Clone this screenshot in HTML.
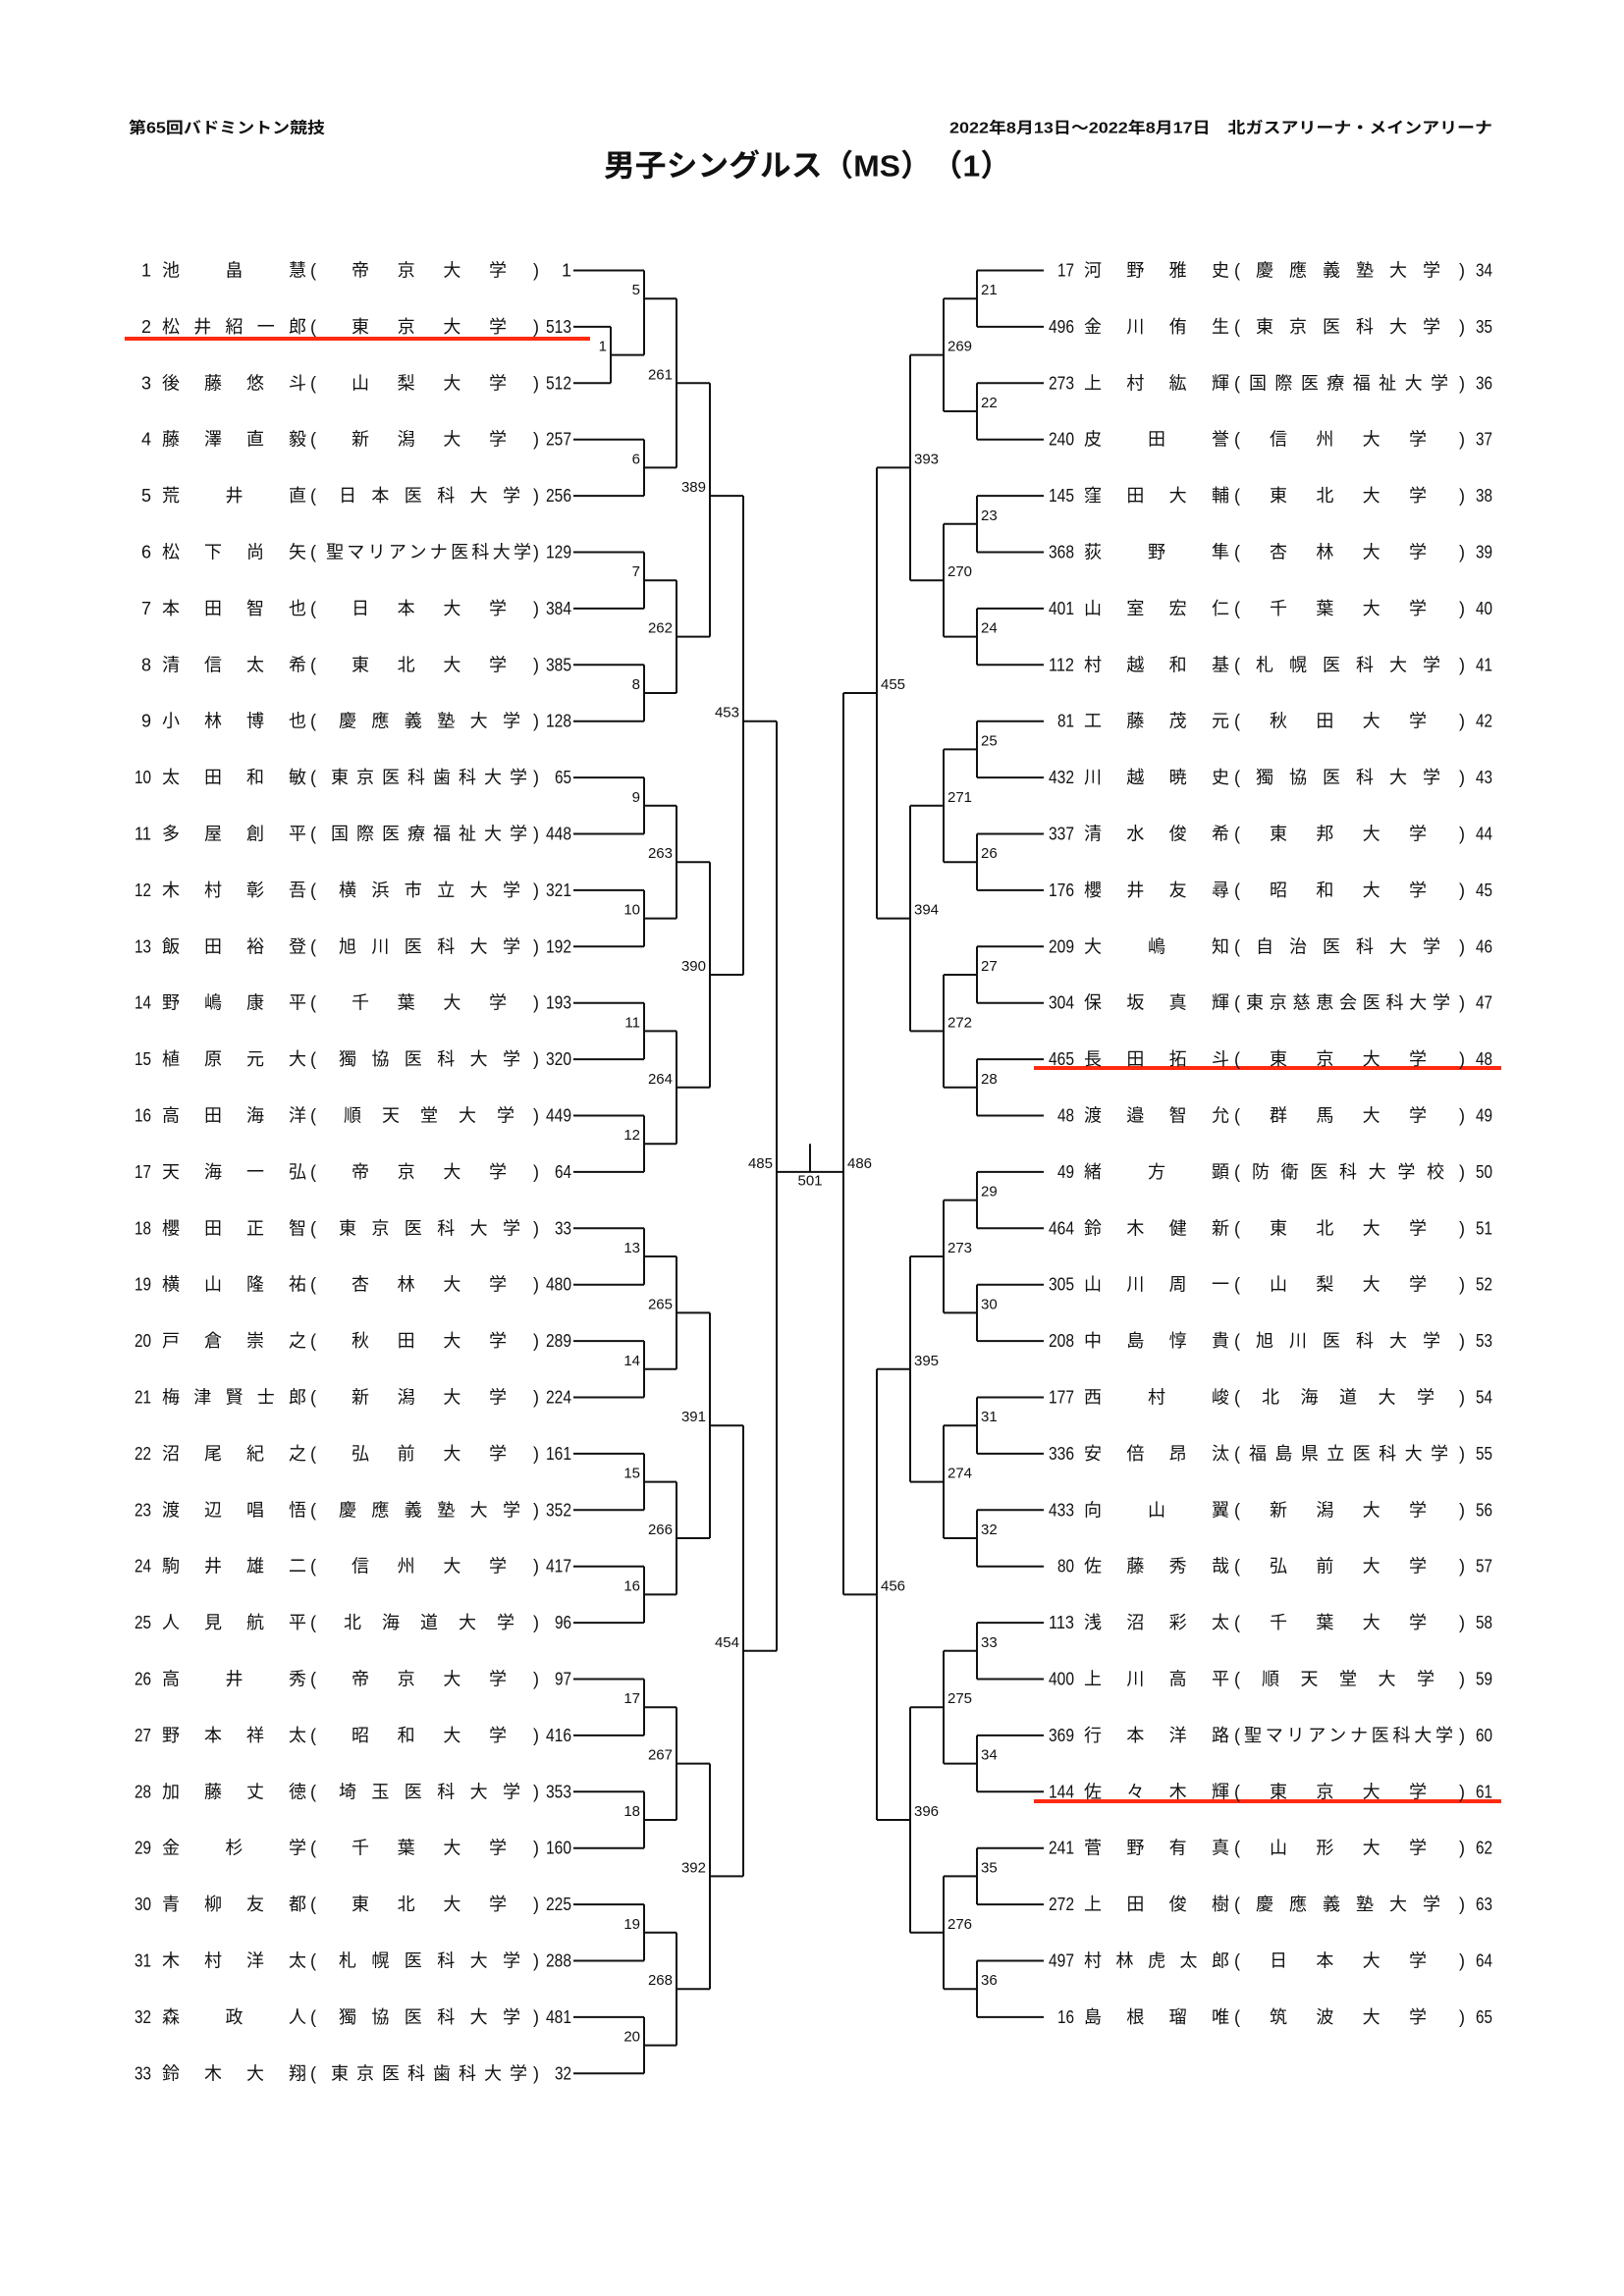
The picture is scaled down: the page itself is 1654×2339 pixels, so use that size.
<!DOCTYPE html>
<html><head><meta charset="utf-8"><style>
html,body{margin:0;padding:0;background:#fff}
svg{display:block}
text{font-family:"Liberation Sans","Noto Sans CJK JP",sans-serif;fill:#111;dominant-baseline:central}
.r text{font-size:18px}
.lb text{font-size:15px}
</style></head><body>
<svg width="1654" height="2339" viewBox="0 0 1654 2339" xmlns="http://www.w3.org/2000/svg">
<rect width="1654" height="2339" fill="#fff"/>
<text x="131" y="131" font-size="16" font-weight="bold" textLength="200" lengthAdjust="spacingAndGlyphs">第65回バドミントン競技</text>
<text x="967" y="131" font-size="16" font-weight="bold" textLength="553" lengthAdjust="spacingAndGlyphs">2022年8月13日～2022年8月17日　北ガスアリーナ・メインアリーナ</text>
<text x="615" y="169" font-size="31" font-weight="bold" textLength="415" lengthAdjust="spacingAndGlyphs">男子シングルス（MS）　（1）</text>

<g transform="matrix(1 0 0 57.4 0 218.1)" fill="none" stroke="#111">
<path vector-effect="non-scaling-stroke" stroke-width="2" d="
M584 1H656 M584 2H622 M584 3H622
M584 4H656 M584 5H656 M584 6H656 M584 7H656 M584 8H656 M584 9H656 M584 10H656 M584 11H656 M584 12H656 M584 13H656 M584 14H656 M584 15H656 M584 16H656 M584 17H656 M584 18H656 M584 19H656 M584 20H656 M584 21H656 M584 22H656 M584 23H656 M584 24H656 M584 25H656 M584 26H656 M584 27H656 M584 28H656 M584 29H656 M584 30H656 M584 31H656 M584 32H656 M584 33H656
M622 2V3 M622 2.5H656
M656 1V2.5 M656 1.5H689
M656 4V5 M656 4.5H689 M656 6V7 M656 6.5H689 M656 8V9 M656 8.5H689 M656 10V11 M656 10.5H689 M656 12V13 M656 12.5H689 M656 14V15 M656 14.5H689 M656 16V17 M656 16.5H689 M656 18V19 M656 18.5H689 M656 20V21 M656 20.5H689 M656 22V23 M656 22.5H689 M656 24V25 M656 24.5H689 M656 26V27 M656 26.5H689 M656 28V29 M656 28.5H689 M656 30V31 M656 30.5H689 M656 32V33 M656 32.5H689
M689 1.5V4.5 M689 3H723 M689 6.5V8.5 M689 7.5H723 M689 10.5V12.5 M689 11.5H723 M689 14.5V16.5 M689 15.5H723 M689 18.5V20.5 M689 19.5H723 M689 22.5V24.5 M689 23.5H723 M689 26.5V28.5 M689 27.5H723 M689 30.5V32.5 M689 31.5H723
M723 3V7.5 M723 5H757 M723 11.5V15.5 M723 13.5H757 M723 19.5V23.5 M723 21.5H757 M723 27.5V31.5 M723 29.5H757
M757 5V13.5 M757 9H791 M757 21.5V29.5 M757 25.5H791
M791 9V25.5 M791 17H859 M825 16.5V17
M859 8.5V24.5
M893 4.5V12.5 M859 8.5H893 M893 20.5V28.5 M859 24.5H893
M927 2.5V6.5 M893 4.5H927 M927 10.5V14.5 M893 12.5H927 M927 18.5V22.5 M893 20.5H927 M927 26.5V30.5 M893 28.5H927
M961 1.5V3.5 M927 2.5H961 M961 5.5V7.5 M927 6.5H961 M961 9.5V11.5 M927 10.5H961 M961 13.5V15.5 M927 14.5H961 M961 17.5V19.5 M927 18.5H961 M961 21.5V23.5 M927 22.5H961 M961 25.5V27.5 M927 26.5H961 M961 29.5V31.5 M927 30.5H961
M995 1V2 M961 1.5H995 M995 3V4 M961 3.5H995 M995 5V6 M961 5.5H995 M995 7V8 M961 7.5H995 M995 9V10 M961 9.5H995 M995 11V12 M961 11.5H995 M995 13V14 M961 13.5H995 M995 15V16 M961 15.5H995 M995 17V18 M961 17.5H995 M995 19V20 M961 19.5H995 M995 21V22 M961 21.5H995 M995 23V24 M961 23.5H995 M995 25V26 M961 25.5H995 M995 27V28 M961 27.5H995 M995 29V30 M961 29.5H995 M995 31V32 M961 31.5H995
M995 1H1063 M995 2H1063 M995 3H1063 M995 4H1063 M995 5H1063 M995 6H1063 M995 7H1063 M995 8H1063 M995 9H1063 M995 10H1063 M995 11H1063 M995 12H1063 M995 13H1063 M995 14H1063 M995 15H1063 M995 16H1063 M995 17H1063 M995 18H1063 M995 19H1063 M995 20H1063 M995 21H1063 M995 22H1063 M995 23H1063 M995 24H1063 M995 25H1063 M995 26H1063 M995 27H1063 M995 28H1063 M995 29H1063 M995 30H1063 M995 31H1063 M995 32H1063
"/>
</g>

<rect x="127" y="343" width="474" height="4" fill="#ff2a10"/>
<rect x="1053" y="1086" width="476" height="4" fill="#ff2a10"/>
<rect x="1053" y="1833" width="476" height="4" fill="#ff2a10"/>

<g class="lb">
<g text-anchor="end">
<text x="618" y="353.1">1</text>
<text x="652" y="295.7">5</text><text x="652" y="467.9">6</text><text x="652" y="582.7">7</text><text x="652" y="697.5">8</text>
<text x="652" y="812.3">9</text><text x="652" y="927.1">10</text><text x="652" y="1041.9">11</text><text x="652" y="1156.7">12</text>
<text x="652" y="1271.5">13</text><text x="652" y="1386.3">14</text><text x="652" y="1501.1">15</text><text x="652" y="1615.9">16</text>
<text x="652" y="1730.7">17</text><text x="652" y="1845.5">18</text><text x="652" y="1960.3">19</text><text x="652" y="2075.1">20</text>
<text x="685" y="381.8">261</text><text x="685" y="640.1">262</text><text x="685" y="869.7">263</text><text x="685" y="1099.3">264</text>
<text x="685" y="1328.9">265</text><text x="685" y="1558.5">266</text><text x="685" y="1788.1">267</text><text x="685" y="2017.7">268</text>
<text x="719" y="496.6">389</text><text x="719" y="984.5">390</text><text x="719" y="1443.7">391</text><text x="719" y="1902.9">392</text>
<text x="753" y="726.2">453</text><text x="753" y="1673.3">454</text>
<text x="787" y="1185.4">485</text>
</g>
<text x="825" y="1203" text-anchor="middle">501</text>
<text x="863" y="1185.4">486</text>
<text x="897" y="697.5">455</text><text x="897" y="1615.9">456</text>
<text x="931" y="467.9">393</text><text x="931" y="927.1">394</text><text x="931" y="1386.3">395</text><text x="931" y="1845.5">396</text>
<text x="965" y="353.1">269</text><text x="965" y="582.7">270</text><text x="965" y="812.3">271</text><text x="965" y="1041.9">272</text>
<text x="965" y="1271.5">273</text><text x="965" y="1501.1">274</text><text x="965" y="1730.7">275</text><text x="965" y="1960.3">276</text>
<text x="999" y="295.7">21</text><text x="999" y="410.5">22</text><text x="999" y="525.3">23</text><text x="999" y="640.1">24</text>
<text x="999" y="754.9">25</text><text x="999" y="869.7">26</text><text x="999" y="984.5">27</text><text x="999" y="1099.3">28</text>
<text x="999" y="1214.1">29</text><text x="999" y="1328.9">30</text><text x="999" y="1443.7">31</text><text x="999" y="1558.5">32</text>
<text x="999" y="1673.3">33</text><text x="999" y="1788.1">34</text><text x="999" y="1902.9">35</text><text x="999" y="2017.7">36</text>
</g>

<g class="r">
<g text-anchor="end">
<text x="154" y="275.5">1</text><text x="154" y="332.9">2</text><text x="154" y="390.3">3</text><text x="154" y="447.7">4</text><text x="154" y="505.1">5</text><text x="154" y="562.5">6</text><text x="154" y="619.9">7</text><text x="154" y="677.3">8</text><text x="154" y="734.7">9</text>
<text x="154" y="792.1" textLength="17" lengthAdjust="spacingAndGlyphs">10</text><text x="154" y="849.5" textLength="17" lengthAdjust="spacingAndGlyphs">11</text><text x="154" y="906.9" textLength="17" lengthAdjust="spacingAndGlyphs">12</text><text x="154" y="964.3" textLength="17" lengthAdjust="spacingAndGlyphs">13</text><text x="154" y="1021.7" textLength="17" lengthAdjust="spacingAndGlyphs">14</text><text x="154" y="1079.1" textLength="17" lengthAdjust="spacingAndGlyphs">15</text><text x="154" y="1136.5" textLength="17" lengthAdjust="spacingAndGlyphs">16</text><text x="154" y="1193.9" textLength="17" lengthAdjust="spacingAndGlyphs">17</text><text x="154" y="1251.3" textLength="17" lengthAdjust="spacingAndGlyphs">18</text><text x="154" y="1308.7" textLength="17" lengthAdjust="spacingAndGlyphs">19</text><text x="154" y="1366.1" textLength="17" lengthAdjust="spacingAndGlyphs">20</text><text x="154" y="1423.5" textLength="17" lengthAdjust="spacingAndGlyphs">21</text><text x="154" y="1480.9" textLength="17" lengthAdjust="spacingAndGlyphs">22</text><text x="154" y="1538.3" textLength="17" lengthAdjust="spacingAndGlyphs">23</text><text x="154" y="1595.7" textLength="17" lengthAdjust="spacingAndGlyphs">24</text><text x="154" y="1653.1" textLength="17" lengthAdjust="spacingAndGlyphs">25</text><text x="154" y="1710.5" textLength="17" lengthAdjust="spacingAndGlyphs">26</text><text x="154" y="1767.9" textLength="17" lengthAdjust="spacingAndGlyphs">27</text><text x="154" y="1825.3" textLength="17" lengthAdjust="spacingAndGlyphs">28</text><text x="154" y="1882.7" textLength="17" lengthAdjust="spacingAndGlyphs">29</text><text x="154" y="1940.1" textLength="17" lengthAdjust="spacingAndGlyphs">30</text><text x="154" y="1997.5" textLength="17" lengthAdjust="spacingAndGlyphs">31</text><text x="154" y="2054.9" textLength="17" lengthAdjust="spacingAndGlyphs">32</text><text x="154" y="2112.3" textLength="17" lengthAdjust="spacingAndGlyphs">33</text>
</g>
<g>
<text x="165" y="275.5" textLength="147" lengthAdjust="spacing">池畠慧</text>
<text x="165" y="332.9" textLength="147" lengthAdjust="spacing">松井紹一郎</text>
<text x="165" y="390.3" textLength="147" lengthAdjust="spacing">後藤悠斗</text>
<text x="165" y="447.7" textLength="147" lengthAdjust="spacing">藤澤直毅</text>
<text x="165" y="505.1" textLength="147" lengthAdjust="spacing">荒井直</text>
<text x="165" y="562.5" textLength="147" lengthAdjust="spacing">松下尚矢</text>
<text x="165" y="619.9" textLength="147" lengthAdjust="spacing">本田智也</text>
<text x="165" y="677.3" textLength="147" lengthAdjust="spacing">清信太希</text>
<text x="165" y="734.7" textLength="147" lengthAdjust="spacing">小林博也</text>
<text x="165" y="792.1" textLength="147" lengthAdjust="spacing">太田和敏</text>
<text x="165" y="849.5" textLength="147" lengthAdjust="spacing">多屋創平</text>
<text x="165" y="906.9" textLength="147" lengthAdjust="spacing">木村彰吾</text>
<text x="165" y="964.3" textLength="147" lengthAdjust="spacing">飯田裕登</text>
<text x="165" y="1021.7" textLength="147" lengthAdjust="spacing">野嶋康平</text>
<text x="165" y="1079.1" textLength="147" lengthAdjust="spacing">植原元大</text>
<text x="165" y="1136.5" textLength="147" lengthAdjust="spacing">高田海洋</text>
<text x="165" y="1193.9" textLength="147" lengthAdjust="spacing">天海一弘</text>
<text x="165" y="1251.3" textLength="147" lengthAdjust="spacing">櫻田正智</text>
<text x="165" y="1308.7" textLength="147" lengthAdjust="spacing">横山隆祐</text>
<text x="165" y="1366.1" textLength="147" lengthAdjust="spacing">戸倉崇之</text>
<text x="165" y="1423.5" textLength="147" lengthAdjust="spacing">梅津賢士郎</text>
<text x="165" y="1480.9" textLength="147" lengthAdjust="spacing">沼尾紀之</text>
<text x="165" y="1538.3" textLength="147" lengthAdjust="spacing">渡辺唱悟</text>
<text x="165" y="1595.7" textLength="147" lengthAdjust="spacing">駒井雄二</text>
<text x="165" y="1653.1" textLength="147" lengthAdjust="spacing">人見航平</text>
<text x="165" y="1710.5" textLength="147" lengthAdjust="spacing">高井秀</text>
<text x="165" y="1767.9" textLength="147" lengthAdjust="spacing">野本祥太</text>
<text x="165" y="1825.3" textLength="147" lengthAdjust="spacing">加藤丈徳</text>
<text x="165" y="1882.7" textLength="147" lengthAdjust="spacing">金杉学</text>
<text x="165" y="1940.1" textLength="147" lengthAdjust="spacing">青柳友都</text>
<text x="165" y="1997.5" textLength="147" lengthAdjust="spacing">木村洋太</text>
<text x="165" y="2054.9" textLength="147" lengthAdjust="spacing">森政人</text>
<text x="165" y="2112.3" textLength="147" lengthAdjust="spacing">鈴木大翔</text>
</g>
<g>
<text x="316" y="275.5">(</text><text x="316" y="332.9">(</text><text x="316" y="390.3">(</text><text x="316" y="447.7">(</text><text x="316" y="505.1">(</text><text x="316" y="562.5">(</text><text x="316" y="619.9">(</text><text x="316" y="677.3">(</text><text x="316" y="734.7">(</text><text x="316" y="792.1">(</text><text x="316" y="849.5">(</text><text x="316" y="906.9">(</text><text x="316" y="964.3">(</text><text x="316" y="1021.7">(</text><text x="316" y="1079.1">(</text><text x="316" y="1136.5">(</text><text x="316" y="1193.9">(</text><text x="316" y="1251.3">(</text><text x="316" y="1308.7">(</text><text x="316" y="1366.1">(</text><text x="316" y="1423.5">(</text><text x="316" y="1480.9">(</text><text x="316" y="1538.3">(</text><text x="316" y="1595.7">(</text><text x="316" y="1653.1">(</text><text x="316" y="1710.5">(</text><text x="316" y="1767.9">(</text><text x="316" y="1825.3">(</text><text x="316" y="1882.7">(</text><text x="316" y="1940.1">(</text><text x="316" y="1997.5">(</text><text x="316" y="2054.9">(</text><text x="316" y="2112.3">(</text>
<text x="543" y="275.5">)</text><text x="543" y="332.9">)</text><text x="543" y="390.3">)</text><text x="543" y="447.7">)</text><text x="543" y="505.1">)</text><text x="543" y="562.5">)</text><text x="543" y="619.9">)</text><text x="543" y="677.3">)</text><text x="543" y="734.7">)</text><text x="543" y="792.1">)</text><text x="543" y="849.5">)</text><text x="543" y="906.9">)</text><text x="543" y="964.3">)</text><text x="543" y="1021.7">)</text><text x="543" y="1079.1">)</text><text x="543" y="1136.5">)</text><text x="543" y="1193.9">)</text><text x="543" y="1251.3">)</text><text x="543" y="1308.7">)</text><text x="543" y="1366.1">)</text><text x="543" y="1423.5">)</text><text x="543" y="1480.9">)</text><text x="543" y="1538.3">)</text><text x="543" y="1595.7">)</text><text x="543" y="1653.1">)</text><text x="543" y="1710.5">)</text><text x="543" y="1767.9">)</text><text x="543" y="1825.3">)</text><text x="543" y="1882.7">)</text><text x="543" y="1940.1">)</text><text x="543" y="1997.5">)</text><text x="543" y="2054.9">)</text><text x="543" y="2112.3">)</text>
</g>
<g>
<text x="358" y="275.5" textLength="158" lengthAdjust="spacing">帝京大学</text>
<text x="358" y="332.9" textLength="158" lengthAdjust="spacing">東京大学</text>
<text x="358" y="390.3" textLength="158" lengthAdjust="spacing">山梨大学</text>
<text x="358" y="447.7" textLength="158" lengthAdjust="spacing">新潟大学</text>
<text x="345" y="505.1" textLength="185" lengthAdjust="spacing">日本医科大学</text>
<text x="332" y="562.5" textLength="209" lengthAdjust="spacing">聖マリアンナ医科大学</text>
<text x="358" y="619.9" textLength="158" lengthAdjust="spacing">日本大学</text>
<text x="358" y="677.3" textLength="158" lengthAdjust="spacing">東北大学</text>
<text x="345" y="734.7" textLength="185" lengthAdjust="spacing">慶應義塾大学</text>
<text x="337" y="792.1" textLength="200" lengthAdjust="spacing">東京医科歯科大学</text>
<text x="337" y="849.5" textLength="200" lengthAdjust="spacing">国際医療福祉大学</text>
<text x="345" y="906.9" textLength="185" lengthAdjust="spacing">横浜市立大学</text>
<text x="345" y="964.3" textLength="185" lengthAdjust="spacing">旭川医科大学</text>
<text x="358" y="1021.7" textLength="158" lengthAdjust="spacing">千葉大学</text>
<text x="345" y="1079.1" textLength="185" lengthAdjust="spacing">獨協医科大学</text>
<text x="350" y="1136.5" textLength="174" lengthAdjust="spacing">順天堂大学</text>
<text x="358" y="1193.9" textLength="158" lengthAdjust="spacing">帝京大学</text>
<text x="345" y="1251.3" textLength="185" lengthAdjust="spacing">東京医科大学</text>
<text x="358" y="1308.7" textLength="158" lengthAdjust="spacing">杏林大学</text>
<text x="358" y="1366.1" textLength="158" lengthAdjust="spacing">秋田大学</text>
<text x="358" y="1423.5" textLength="158" lengthAdjust="spacing">新潟大学</text>
<text x="358" y="1480.9" textLength="158" lengthAdjust="spacing">弘前大学</text>
<text x="345" y="1538.3" textLength="185" lengthAdjust="spacing">慶應義塾大学</text>
<text x="358" y="1595.7" textLength="158" lengthAdjust="spacing">信州大学</text>
<text x="350" y="1653.1" textLength="174" lengthAdjust="spacing">北海道大学</text>
<text x="358" y="1710.5" textLength="158" lengthAdjust="spacing">帝京大学</text>
<text x="358" y="1767.9" textLength="158" lengthAdjust="spacing">昭和大学</text>
<text x="345" y="1825.3" textLength="185" lengthAdjust="spacing">埼玉医科大学</text>
<text x="358" y="1882.7" textLength="158" lengthAdjust="spacing">千葉大学</text>
<text x="358" y="1940.1" textLength="158" lengthAdjust="spacing">東北大学</text>
<text x="345" y="1997.5" textLength="185" lengthAdjust="spacing">札幌医科大学</text>
<text x="345" y="2054.9" textLength="185" lengthAdjust="spacing">獨協医科大学</text>
<text x="337" y="2112.3" textLength="200" lengthAdjust="spacing">東京医科歯科大学</text>
</g>
<g text-anchor="end">
<text x="582" y="275.5">1</text><text x="582" y="332.9" textLength="26" lengthAdjust="spacingAndGlyphs">513</text><text x="582" y="390.3" textLength="26" lengthAdjust="spacingAndGlyphs">512</text><text x="582" y="447.7" textLength="26" lengthAdjust="spacingAndGlyphs">257</text><text x="582" y="505.1" textLength="26" lengthAdjust="spacingAndGlyphs">256</text><text x="582" y="562.5" textLength="26" lengthAdjust="spacingAndGlyphs">129</text><text x="582" y="619.9" textLength="26" lengthAdjust="spacingAndGlyphs">384</text><text x="582" y="677.3" textLength="26" lengthAdjust="spacingAndGlyphs">385</text><text x="582" y="734.7" textLength="26" lengthAdjust="spacingAndGlyphs">128</text><text x="582" y="792.1" textLength="17" lengthAdjust="spacingAndGlyphs">65</text><text x="582" y="849.5" textLength="26" lengthAdjust="spacingAndGlyphs">448</text><text x="582" y="906.9" textLength="26" lengthAdjust="spacingAndGlyphs">321</text><text x="582" y="964.3" textLength="26" lengthAdjust="spacingAndGlyphs">192</text><text x="582" y="1021.7" textLength="26" lengthAdjust="spacingAndGlyphs">193</text><text x="582" y="1079.1" textLength="26" lengthAdjust="spacingAndGlyphs">320</text><text x="582" y="1136.5" textLength="26" lengthAdjust="spacingAndGlyphs">449</text><text x="582" y="1193.9" textLength="17" lengthAdjust="spacingAndGlyphs">64</text><text x="582" y="1251.3" textLength="17" lengthAdjust="spacingAndGlyphs">33</text><text x="582" y="1308.7" textLength="26" lengthAdjust="spacingAndGlyphs">480</text><text x="582" y="1366.1" textLength="26" lengthAdjust="spacingAndGlyphs">289</text><text x="582" y="1423.5" textLength="26" lengthAdjust="spacingAndGlyphs">224</text><text x="582" y="1480.9" textLength="26" lengthAdjust="spacingAndGlyphs">161</text><text x="582" y="1538.3" textLength="26" lengthAdjust="spacingAndGlyphs">352</text><text x="582" y="1595.7" textLength="26" lengthAdjust="spacingAndGlyphs">417</text><text x="582" y="1653.1" textLength="17" lengthAdjust="spacingAndGlyphs">96</text><text x="582" y="1710.5" textLength="17" lengthAdjust="spacingAndGlyphs">97</text><text x="582" y="1767.9" textLength="26" lengthAdjust="spacingAndGlyphs">416</text><text x="582" y="1825.3" textLength="26" lengthAdjust="spacingAndGlyphs">353</text><text x="582" y="1882.7" textLength="26" lengthAdjust="spacingAndGlyphs">160</text><text x="582" y="1940.1" textLength="26" lengthAdjust="spacingAndGlyphs">225</text><text x="582" y="1997.5" textLength="26" lengthAdjust="spacingAndGlyphs">288</text><text x="582" y="2054.9" textLength="26" lengthAdjust="spacingAndGlyphs">481</text><text x="582" y="2112.3" textLength="17" lengthAdjust="spacingAndGlyphs">32</text>
</g>

<g text-anchor="end">
<text x="1094" y="275.5" textLength="17" lengthAdjust="spacingAndGlyphs">17</text><text x="1094" y="332.9" textLength="26" lengthAdjust="spacingAndGlyphs">496</text><text x="1094" y="390.3" textLength="26" lengthAdjust="spacingAndGlyphs">273</text><text x="1094" y="447.7" textLength="26" lengthAdjust="spacingAndGlyphs">240</text><text x="1094" y="505.1" textLength="26" lengthAdjust="spacingAndGlyphs">145</text><text x="1094" y="562.5" textLength="26" lengthAdjust="spacingAndGlyphs">368</text><text x="1094" y="619.9" textLength="26" lengthAdjust="spacingAndGlyphs">401</text><text x="1094" y="677.3" textLength="26" lengthAdjust="spacingAndGlyphs">112</text><text x="1094" y="734.7" textLength="17" lengthAdjust="spacingAndGlyphs">81</text><text x="1094" y="792.1" textLength="26" lengthAdjust="spacingAndGlyphs">432</text><text x="1094" y="849.5" textLength="26" lengthAdjust="spacingAndGlyphs">337</text><text x="1094" y="906.9" textLength="26" lengthAdjust="spacingAndGlyphs">176</text><text x="1094" y="964.3" textLength="26" lengthAdjust="spacingAndGlyphs">209</text><text x="1094" y="1021.7" textLength="26" lengthAdjust="spacingAndGlyphs">304</text><text x="1094" y="1079.1" textLength="26" lengthAdjust="spacingAndGlyphs">465</text><text x="1094" y="1136.5" textLength="17" lengthAdjust="spacingAndGlyphs">48</text><text x="1094" y="1193.9" textLength="17" lengthAdjust="spacingAndGlyphs">49</text><text x="1094" y="1251.3" textLength="26" lengthAdjust="spacingAndGlyphs">464</text><text x="1094" y="1308.7" textLength="26" lengthAdjust="spacingAndGlyphs">305</text><text x="1094" y="1366.1" textLength="26" lengthAdjust="spacingAndGlyphs">208</text><text x="1094" y="1423.5" textLength="26" lengthAdjust="spacingAndGlyphs">177</text><text x="1094" y="1480.9" textLength="26" lengthAdjust="spacingAndGlyphs">336</text><text x="1094" y="1538.3" textLength="26" lengthAdjust="spacingAndGlyphs">433</text><text x="1094" y="1595.7" textLength="17" lengthAdjust="spacingAndGlyphs">80</text><text x="1094" y="1653.1" textLength="26" lengthAdjust="spacingAndGlyphs">113</text><text x="1094" y="1710.5" textLength="26" lengthAdjust="spacingAndGlyphs">400</text><text x="1094" y="1767.9" textLength="26" lengthAdjust="spacingAndGlyphs">369</text><text x="1094" y="1825.3" textLength="26" lengthAdjust="spacingAndGlyphs">144</text><text x="1094" y="1882.7" textLength="26" lengthAdjust="spacingAndGlyphs">241</text><text x="1094" y="1940.1" textLength="26" lengthAdjust="spacingAndGlyphs">272</text><text x="1094" y="1997.5" textLength="26" lengthAdjust="spacingAndGlyphs">497</text><text x="1094" y="2054.9" textLength="17" lengthAdjust="spacingAndGlyphs">16</text>
</g>
<g>
<text x="1104" y="275.5" textLength="148" lengthAdjust="spacing">河野雅史</text>
<text x="1104" y="332.9" textLength="148" lengthAdjust="spacing">金川侑生</text>
<text x="1104" y="390.3" textLength="148" lengthAdjust="spacing">上村紘輝</text>
<text x="1104" y="447.7" textLength="148" lengthAdjust="spacing">皮田誉</text>
<text x="1104" y="505.1" textLength="148" lengthAdjust="spacing">窪田大輔</text>
<text x="1104" y="562.5" textLength="148" lengthAdjust="spacing">荻野隼</text>
<text x="1104" y="619.9" textLength="148" lengthAdjust="spacing">山室宏仁</text>
<text x="1104" y="677.3" textLength="148" lengthAdjust="spacing">村越和基</text>
<text x="1104" y="734.7" textLength="148" lengthAdjust="spacing">工藤茂元</text>
<text x="1104" y="792.1" textLength="148" lengthAdjust="spacing">川越暁史</text>
<text x="1104" y="849.5" textLength="148" lengthAdjust="spacing">清水俊希</text>
<text x="1104" y="906.9" textLength="148" lengthAdjust="spacing">櫻井友尋</text>
<text x="1104" y="964.3" textLength="148" lengthAdjust="spacing">大嶋知</text>
<text x="1104" y="1021.7" textLength="148" lengthAdjust="spacing">保坂真輝</text>
<text x="1104" y="1079.1" textLength="148" lengthAdjust="spacing">長田拓斗</text>
<text x="1104" y="1136.5" textLength="148" lengthAdjust="spacing">渡邉智允</text>
<text x="1104" y="1193.9" textLength="148" lengthAdjust="spacing">緒方顕</text>
<text x="1104" y="1251.3" textLength="148" lengthAdjust="spacing">鈴木健新</text>
<text x="1104" y="1308.7" textLength="148" lengthAdjust="spacing">山川周一</text>
<text x="1104" y="1366.1" textLength="148" lengthAdjust="spacing">中島惇貴</text>
<text x="1104" y="1423.5" textLength="148" lengthAdjust="spacing">西村峻</text>
<text x="1104" y="1480.9" textLength="148" lengthAdjust="spacing">安倍昂汰</text>
<text x="1104" y="1538.3" textLength="148" lengthAdjust="spacing">向山翼</text>
<text x="1104" y="1595.7" textLength="148" lengthAdjust="spacing">佐藤秀哉</text>
<text x="1104" y="1653.1" textLength="148" lengthAdjust="spacing">浅沼彩太</text>
<text x="1104" y="1710.5" textLength="148" lengthAdjust="spacing">上川高平</text>
<text x="1104" y="1767.9" textLength="148" lengthAdjust="spacing">行本洋路</text>
<text x="1104" y="1825.3" textLength="148" lengthAdjust="spacing">佐々木輝</text>
<text x="1104" y="1882.7" textLength="148" lengthAdjust="spacing">菅野有真</text>
<text x="1104" y="1940.1" textLength="148" lengthAdjust="spacing">上田俊樹</text>
<text x="1104" y="1997.5" textLength="148" lengthAdjust="spacing">村林虎太郎</text>
<text x="1104" y="2054.9" textLength="148" lengthAdjust="spacing">島根瑠唯</text>
</g>
<g>
<text x="1257" y="275.5">(</text><text x="1257" y="332.9">(</text><text x="1257" y="390.3">(</text><text x="1257" y="447.7">(</text><text x="1257" y="505.1">(</text><text x="1257" y="562.5">(</text><text x="1257" y="619.9">(</text><text x="1257" y="677.3">(</text><text x="1257" y="734.7">(</text><text x="1257" y="792.1">(</text><text x="1257" y="849.5">(</text><text x="1257" y="906.9">(</text><text x="1257" y="964.3">(</text><text x="1257" y="1021.7">(</text><text x="1257" y="1079.1">(</text><text x="1257" y="1136.5">(</text><text x="1257" y="1193.9">(</text><text x="1257" y="1251.3">(</text><text x="1257" y="1308.7">(</text><text x="1257" y="1366.1">(</text><text x="1257" y="1423.5">(</text><text x="1257" y="1480.9">(</text><text x="1257" y="1538.3">(</text><text x="1257" y="1595.7">(</text><text x="1257" y="1653.1">(</text><text x="1257" y="1710.5">(</text><text x="1257" y="1767.9">(</text><text x="1257" y="1825.3">(</text><text x="1257" y="1882.7">(</text><text x="1257" y="1940.1">(</text><text x="1257" y="1997.5">(</text><text x="1257" y="2054.9">(</text>
<text x="1486" y="275.5">)</text><text x="1486" y="332.9">)</text><text x="1486" y="390.3">)</text><text x="1486" y="447.7">)</text><text x="1486" y="505.1">)</text><text x="1486" y="562.5">)</text><text x="1486" y="619.9">)</text><text x="1486" y="677.3">)</text><text x="1486" y="734.7">)</text><text x="1486" y="792.1">)</text><text x="1486" y="849.5">)</text><text x="1486" y="906.9">)</text><text x="1486" y="964.3">)</text><text x="1486" y="1021.7">)</text><text x="1486" y="1079.1">)</text><text x="1486" y="1136.5">)</text><text x="1486" y="1193.9">)</text><text x="1486" y="1251.3">)</text><text x="1486" y="1308.7">)</text><text x="1486" y="1366.1">)</text><text x="1486" y="1423.5">)</text><text x="1486" y="1480.9">)</text><text x="1486" y="1538.3">)</text><text x="1486" y="1595.7">)</text><text x="1486" y="1653.1">)</text><text x="1486" y="1710.5">)</text><text x="1486" y="1767.9">)</text><text x="1486" y="1825.3">)</text><text x="1486" y="1882.7">)</text><text x="1486" y="1940.1">)</text><text x="1486" y="1997.5">)</text><text x="1486" y="2054.9">)</text>
</g>
<g>
<text x="1279" y="275.5" textLength="188" lengthAdjust="spacing">慶應義塾大学</text>
<text x="1279" y="332.9" textLength="188" lengthAdjust="spacing">東京医科大学</text>
<text x="1272" y="390.3" textLength="203" lengthAdjust="spacing">国際医療福祉大学</text>
<text x="1293" y="447.7" textLength="160" lengthAdjust="spacing">信州大学</text>
<text x="1293" y="505.1" textLength="160" lengthAdjust="spacing">東北大学</text>
<text x="1293" y="562.5" textLength="160" lengthAdjust="spacing">杏林大学</text>
<text x="1293" y="619.9" textLength="160" lengthAdjust="spacing">千葉大学</text>
<text x="1279" y="677.3" textLength="188" lengthAdjust="spacing">札幌医科大学</text>
<text x="1293" y="734.7" textLength="160" lengthAdjust="spacing">秋田大学</text>
<text x="1279" y="792.1" textLength="188" lengthAdjust="spacing">獨協医科大学</text>
<text x="1293" y="849.5" textLength="160" lengthAdjust="spacing">東邦大学</text>
<text x="1293" y="906.9" textLength="160" lengthAdjust="spacing">昭和大学</text>
<text x="1279" y="964.3" textLength="188" lengthAdjust="spacing">自治医科大学</text>
<text x="1269" y="1021.7" textLength="208" lengthAdjust="spacing">東京慈恵会医科大学</text>
<text x="1293" y="1079.1" textLength="160" lengthAdjust="spacing">東京大学</text>
<text x="1293" y="1136.5" textLength="160" lengthAdjust="spacing">群馬大学</text>
<text x="1275" y="1193.9" textLength="196" lengthAdjust="spacing">防衛医科大学校</text>
<text x="1293" y="1251.3" textLength="160" lengthAdjust="spacing">東北大学</text>
<text x="1293" y="1308.7" textLength="160" lengthAdjust="spacing">山梨大学</text>
<text x="1279" y="1366.1" textLength="188" lengthAdjust="spacing">旭川医科大学</text>
<text x="1285" y="1423.5" textLength="176" lengthAdjust="spacing">北海道大学</text>
<text x="1272" y="1480.9" textLength="203" lengthAdjust="spacing">福島県立医科大学</text>
<text x="1293" y="1538.3" textLength="160" lengthAdjust="spacing">新潟大学</text>
<text x="1293" y="1595.7" textLength="160" lengthAdjust="spacing">弘前大学</text>
<text x="1293" y="1653.1" textLength="160" lengthAdjust="spacing">千葉大学</text>
<text x="1285" y="1710.5" textLength="176" lengthAdjust="spacing">順天堂大学</text>
<text x="1267" y="1767.9" textLength="213" lengthAdjust="spacing">聖マリアンナ医科大学</text>
<text x="1293" y="1825.3" textLength="160" lengthAdjust="spacing">東京大学</text>
<text x="1293" y="1882.7" textLength="160" lengthAdjust="spacing">山形大学</text>
<text x="1279" y="1940.1" textLength="188" lengthAdjust="spacing">慶應義塾大学</text>
<text x="1293" y="1997.5" textLength="160" lengthAdjust="spacing">日本大学</text>
<text x="1293" y="2054.9" textLength="160" lengthAdjust="spacing">筑波大学</text>
</g>
<g>
<text x="1503" y="275.5" textLength="17" lengthAdjust="spacingAndGlyphs">34</text><text x="1503" y="332.9" textLength="17" lengthAdjust="spacingAndGlyphs">35</text><text x="1503" y="390.3" textLength="17" lengthAdjust="spacingAndGlyphs">36</text><text x="1503" y="447.7" textLength="17" lengthAdjust="spacingAndGlyphs">37</text><text x="1503" y="505.1" textLength="17" lengthAdjust="spacingAndGlyphs">38</text><text x="1503" y="562.5" textLength="17" lengthAdjust="spacingAndGlyphs">39</text><text x="1503" y="619.9" textLength="17" lengthAdjust="spacingAndGlyphs">40</text><text x="1503" y="677.3" textLength="17" lengthAdjust="spacingAndGlyphs">41</text><text x="1503" y="734.7" textLength="17" lengthAdjust="spacingAndGlyphs">42</text><text x="1503" y="792.1" textLength="17" lengthAdjust="spacingAndGlyphs">43</text><text x="1503" y="849.5" textLength="17" lengthAdjust="spacingAndGlyphs">44</text><text x="1503" y="906.9" textLength="17" lengthAdjust="spacingAndGlyphs">45</text><text x="1503" y="964.3" textLength="17" lengthAdjust="spacingAndGlyphs">46</text><text x="1503" y="1021.7" textLength="17" lengthAdjust="spacingAndGlyphs">47</text><text x="1503" y="1079.1" textLength="17" lengthAdjust="spacingAndGlyphs">48</text><text x="1503" y="1136.5" textLength="17" lengthAdjust="spacingAndGlyphs">49</text><text x="1503" y="1193.9" textLength="17" lengthAdjust="spacingAndGlyphs">50</text><text x="1503" y="1251.3" textLength="17" lengthAdjust="spacingAndGlyphs">51</text><text x="1503" y="1308.7" textLength="17" lengthAdjust="spacingAndGlyphs">52</text><text x="1503" y="1366.1" textLength="17" lengthAdjust="spacingAndGlyphs">53</text><text x="1503" y="1423.5" textLength="17" lengthAdjust="spacingAndGlyphs">54</text><text x="1503" y="1480.9" textLength="17" lengthAdjust="spacingAndGlyphs">55</text><text x="1503" y="1538.3" textLength="17" lengthAdjust="spacingAndGlyphs">56</text><text x="1503" y="1595.7" textLength="17" lengthAdjust="spacingAndGlyphs">57</text><text x="1503" y="1653.1" textLength="17" lengthAdjust="spacingAndGlyphs">58</text><text x="1503" y="1710.5" textLength="17" lengthAdjust="spacingAndGlyphs">59</text><text x="1503" y="1767.9" textLength="17" lengthAdjust="spacingAndGlyphs">60</text><text x="1503" y="1825.3" textLength="17" lengthAdjust="spacingAndGlyphs">61</text><text x="1503" y="1882.7" textLength="17" lengthAdjust="spacingAndGlyphs">62</text><text x="1503" y="1940.1" textLength="17" lengthAdjust="spacingAndGlyphs">63</text><text x="1503" y="1997.5" textLength="17" lengthAdjust="spacingAndGlyphs">64</text><text x="1503" y="2054.9" textLength="17" lengthAdjust="spacingAndGlyphs">65</text>
</g>
</g>
</svg>
</body></html>
